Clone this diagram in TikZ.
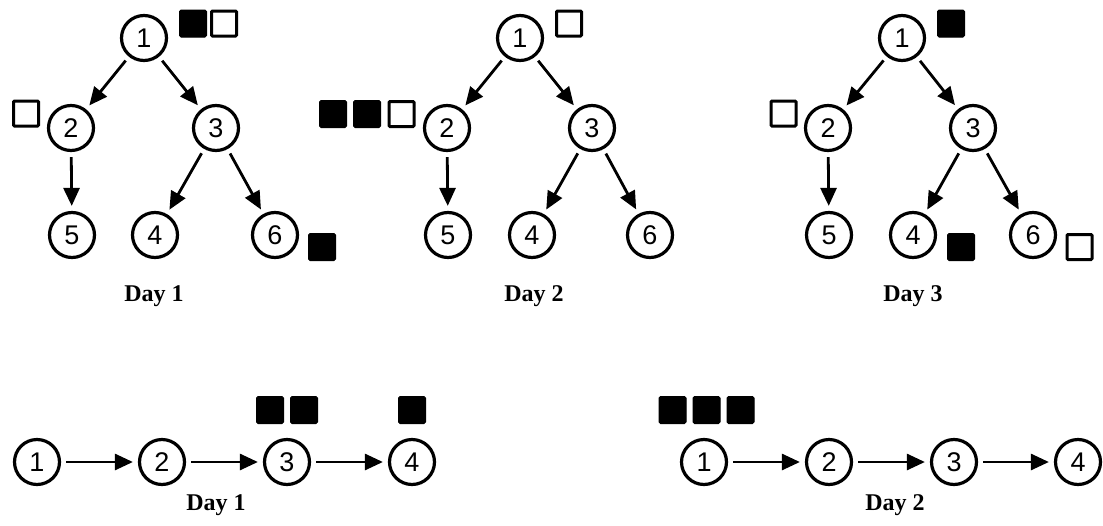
\documentclass[tikz,border=0pt]{standalone}
\usepackage{fontspec}
\setmainfont{Liberation Serif}
\newfontfamily\digitfont{Liberation Sans}
\usetikzlibrary{arrows.meta}
\tikzset{
  vtx/.style={circle, draw, line width=3.2pt, minimum size=45pt, inner sep=0pt,
    font=\digitfont\fontsize{27pt}{27pt}\selectfont},
  edge/.style={line width=2.8pt, -{Triangle[length=18pt,width=16pt]},
    shorten <=5pt, shorten >=5pt},
  bsq/.style={draw, fill=black, line width=1pt, rounded corners=1.5pt, minimum size=27pt, inner sep=0pt},
  wsq/.style={draw, fill=white, line width=3pt, rounded corners=1pt, minimum size=25pt, inner sep=0pt},
  daylbl/.style={font=\bfseries\fontsize{24pt}{24pt}\selectfont}
}
\begin{document}
\begin{tikzpicture}[x=1pt, y=-1pt]
\useasboundingbox (0,0) rectangle (1103,525);

% ---------- Tree Day 1 ----------
\node[vtx] (a1) at (144,38) {1};
\node[vtx] (a2) at (71,128) {2};
\node[vtx] (a3) at (216,128) {3};
\node[vtx] (a5) at (72,235) {5};
\node[vtx] (a4) at (155,235) {4};
\node[vtx] (a6) at (275,235) {6};
\draw[edge] (a1) -- (a2);
\draw[edge] (a1) -- (a3);
\draw[edge] (a2) -- (a5);
\draw[edge] (a3) -- (a4);
\draw[edge] (a3) -- (a6);
\node[bsq] (a1s1) at (193,23.5) {};
\node[wsq] (a1s2) at (224,23.5) {};
\node[wsq] (a2s1) at (26,113.5) {};
\node[bsq] (a6s1) at (322,247) {};
\node[daylbl] (la) at (154,296) {Day 1};

% ---------- Tree Day 2 ----------
\node[vtx] (b1) at (520,38) {1};
\node[vtx] (b2) at (447,128) {2};
\node[vtx] (b3) at (592,128) {3};
\node[vtx] (b5) at (448,235) {5};
\node[vtx] (b4) at (532,235) {4};
\node[vtx] (b6) at (650,235) {6};
\draw[edge] (b1) -- (b2);
\draw[edge] (b1) -- (b3);
\draw[edge] (b2) -- (b5);
\draw[edge] (b3) -- (b4);
\draw[edge] (b3) -- (b6);
\node[wsq] (b1s1) at (569,23.5) {};
\node[bsq] (b2s1) at (333,114) {};
\node[bsq] (b2s2) at (367,114) {};
\node[wsq] (b2s3) at (401.5,114) {};
\node[daylbl] (lb) at (534,296) {Day 2};

% ---------- Tree Day 3 ----------
\node[vtx] (c1) at (902,38) {1};
\node[vtx] (c2) at (828,128) {2};
\node[vtx] (c3) at (973,128) {3};
\node[vtx] (c5) at (829,235) {5};
\node[vtx] (c4) at (913,235) {4};
\node[vtx] (c6) at (1033,235) {6};
\draw[edge] (c1) -- (c2);
\draw[edge] (c1) -- (c3);
\draw[edge] (c2) -- (c5);
\draw[edge] (c3) -- (c4);
\draw[edge] (c3) -- (c6);
\node[bsq] (c1s1) at (951,23.5) {};
\node[wsq] (c2s1) at (783.5,113.5) {};
\node[bsq] (c4s1) at (961,247) {};
\node[wsq] (c6s1) at (1079.5,247) {};
\node[daylbl] (lc) at (913,296) {Day 3};

% ---------- Chain Day 1 ----------
\node[vtx] (d1) at (37,462) {1};
\node[vtx] (d2) at (162,462) {2};
\node[vtx] (d3) at (287,462) {3};
\node[vtx] (d4) at (412,462) {4};
\draw[edge] (d1) -- (d2);
\draw[edge] (d2) -- (d3);
\draw[edge] (d3) -- (d4);
\node[bsq] (d3s1) at (270,410) {};
\node[bsq] (d3s2) at (304,410) {};
\node[bsq] (d4s1) at (412,410) {};
\node[daylbl] (ld) at (216,505) {Day 1};

% ---------- Chain Day 2 ----------
\node[vtx] (e1) at (704,462) {1};
\node[vtx] (e2) at (829,462) {2};
\node[vtx] (e3) at (954,462) {3};
\node[vtx] (e4) at (1078,462) {4};
\draw[edge] (e1) -- (e2);
\draw[edge] (e2) -- (e3);
\draw[edge] (e3) -- (e4);
\node[bsq] (e1s1) at (672.5,410) {};
\node[bsq] (e1s2) at (706.5,410) {};
\node[bsq] (e1s3) at (740.5,410) {};
\node[daylbl] (le) at (895,505) {Day 2};
\end{tikzpicture}
\end{document}
